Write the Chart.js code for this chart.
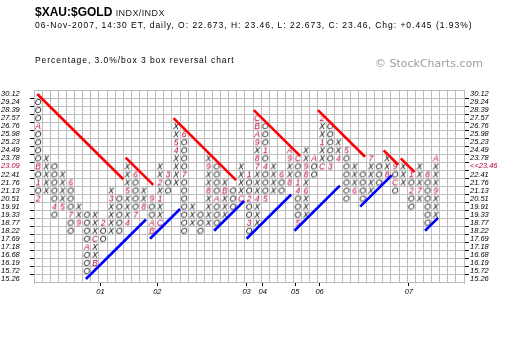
<!DOCTYPE html>
<html>
<head>
    <meta charset="utf-8">
    <script src="https://cdn.jsdelivr.net/npm/chart.js"></script>
    <title>$XAU:$GOLD P&amp;F</title>
    <style type="text/css">
        body { margin: 0; background: #fff; }
        #wrap { position: relative; width: 520px; height: 338px; }
        #pf { position: absolute; left: 0; top: 0; }
        .t { position: absolute; white-space: nowrap; font-family: "Liberation Sans", Arial, sans-serif; color: #000; }
    </style>
    <script type="text/javascript">
        // box values, bottom to top (3% boxes)
        var boxes = [15.26, 15.72, 16.19, 16.68, 17.18, 17.69, 18.22, 18.77, 19.33, 19.91, 20.51, 21.13,
                     21.76, 22.41, 23.09, 23.78, 24.49, 25.23, 25.98, 26.76, 27.57, 28.39, 29.24, 30.12];
        var lastLabel = '<<23.46';
        var lastBox = 14;

        // one entry per column: X or O, first box, last box (box index from the bottom)
        var colType = ['O','X','O','X','O','X','O','X','O','X','O','X','O','X','O','X','O','X','O','X',
                       'O','X','O','X','O','X','O','X','O','X','O','X','O','X','O','X','O','X','O','X',
                       'O','X','O','X','O','X','O','X','O','X'];
        var colFrom = [22,11,14, 9,12, 7, 8, 2, 7, 6,10, 7,13, 9,10, 7,13,12,18, 7,
                        8, 7,14, 8,11,10,13, 7,19,11,13,12,15, 8,15,14,19,15,16,11,
                       13,11,14,13,14,12,13,10,13, 8];
        var colTo   = [10,15, 8,13, 6, 9, 1, 8, 5,11, 6,14, 8,11, 6,14,11,19, 6, 9,
                        6,15, 7,12, 9,14, 6,20,10,14,11,16, 7,16,13,20,14,17,10,14,
                       10,15,12,15,11,14, 9,14, 7,15];

        // month markers: column, box, month
        var markCol = [0, 0, 0, 0, 2, 3, 4, 4, 5, 6, 7, 7, 8, 9,11,11,12,12,13,14,14,14,15,15,15,16,17,17,18,18,
                       21,21,22,23,25,26,26,26,27,27,27,27,27,27,27,28,28,28,30,31,31,31,32,32,32,32,
                       33,33,33,34,35,35,35,36,37,38,39,41,43,44,44,46,46,47,48,49,49];
        var markBox = [19,14,12,10, 9, 9,12, 8, 7, 4, 2, 5, 7,10, 7,11,13, 8, 9,10, 7, 6, 7,10,12,13,16,17,18,13,
                       11,14,10,11,10,13,10, 7,10,14,15,17,18,19,20,16,14,10,13,12,15,16,15,12,11, 7,
                       11,13,14,15,14,17,20,14,15,16,11,15,13,14,12,13,11,11,13,11,15];
        var markText = ['A','B','1','2','4','5','6','7','9','A','B','C','2','3','4','5','6','7','8','9','A','B','C','1','2','3','4','5','6','7',
                        '8','9','A','B','C','1','2','3','4','7','8','9','A','B','C','1','4','5','6','8','9','A','C','1','4','5',
                        '6','8','9','A','C','1','2','3','4','5','6','7','8','9','C','1','2','7','8','9','A'];

        // year labels on the bottom axis (column where the year starts)
        var yearCol = [8, 15, 26, 28, 32, 35, 46];
        var yearText = ['01', '02', '03', '04', '05', '06', '07'];

        // trend lines: [col1, box1, col2, box2]
        var redLines = [[-0.1, 23, 10.5, 12.4], [10.8, 15.1, 14.2, 11.7], [16.7, 20, 24.4, 12.3],
                        [26.6, 21, 32.3, 15.3], [34.5, 21, 40.3, 15.2], [42.6, 16, 44.4, 14.2], [44.7, 15, 46.4, 13.3]];
        var blueLines = [[5.9, 0, 13.3, 7.4], [13.8, 5, 17.5, 8.7], [21.7, 6, 25.4, 9.7], [25.7, 5, 31.2, 10.5],
                         [31.6, 6, 37.2, 11.6], [39.7, 9, 43.6, 12.9], [47.7, 6, 49.3, 7.6]];
    </script>
</head>
<body>
<div id="wrap">
    <canvas id="pf" width="520" height="338"></canvas>
    <div class="t" style="left:35px; top:6px; font-size:12px; line-height:12px; font-weight:bold;">$XAU:$GOLD <span style="font-weight:normal; font-size:9px; letter-spacing:0.4px; color:#222;">INDX/INDX</span></div>
    <div class="t" style="left:35px; top:21px; font-size:8.5px; line-height:8.5px; letter-spacing:0.98px;">06-Nov-2007, 14:30 ET, daily, O: 22.673, H: 23.46, L: 22.673, C: 23.46, Chg: +0.445 (1.93%)</div>
    <div class="t" style="left:35px; top:55.5px; font-size:8.5px; line-height:8.5px; letter-spacing:0.95px;">Percentage, 3.0%/box 3 box reversal chart</div>
    <div class="t" style="left:375px; top:57.5px; font-size:11px; line-height:11px; font-family:'DejaVu Sans', sans-serif; color:#9c9c9c;">&copy; StockCharts.com</div>
</div>

<script>
    var markColor = '#b4003c';
    var gridColor = '#bdbdbd';
    var tickFont = { family: 'Liberation Sans', size: 7.5, style: 'italic' };

    // small canvases used as point styles for X, O and the month markers
    var glyphs = {};
    function glyph(ch) {
        if (glyphs[ch]) return glyphs[ch];
        var c = document.createElement('canvas');
        c.width = 8;
        c.height = 8;
        var g = c.getContext('2d');
        g.font = 'italic 8.5px "Liberation Sans"';
        g.fillStyle = (ch === 'X' || ch === 'O') ? '#000' : markColor;
        g.textAlign = 'center';
        g.textBaseline = 'middle';
        g.fillText(ch, 4, 4.5);
        glyphs[ch] = c;
        return c;
    }

    function markAt(col, box) {
        for (var i = 0; i < markCol.length; i++) {
            if (markCol[i] === col && markBox[i] === box) return markText[i];
        }
        return null;
    }

    var points = [];
    for (var c = 0; c < colType.length; c++) {
        var step = colFrom[c] <= colTo[c] ? 1 : -1;
        for (var b = colFrom[c]; ; b += step) {
            points.push({ x: c, y: b, s: markAt(c, b) || colType[c] });
            if (b === colTo[c]) break;
        }
    }

    var datasets = [];
    function addLines(list, color) {
        list.forEach(function (l) {
            datasets.push({
                data: [{ x: l[0], y: l[1] }, { x: l[2], y: l[3] }],
                showLine: true, borderColor: color, borderWidth: 2.6, pointRadius: 0, borderCapStyle: 'butt'
            });
        });
    }
    addLines(redLines, '#ff0000');
    addLines(blueLines, '#0000ff');
    datasets.push({
        data: points,
        pointRadius: 4,
        pointStyle: function (ctx) { return ctx.raw ? glyph(ctx.raw.s) : 'circle'; }
    });

    function boxTicks(s) {
        s.ticks = boxes.map(function (v, i) { return { value: i }; });
    }
    function tickMarkColor(ctx) {
        return (ctx.type === 'tick' && ctx.index > 0) ? '#000' : 'rgba(0,0,0,0)';
    }

    var chart = new Chart(document.getElementById('pf'), {
        type: 'scatter',
        data: { datasets: datasets },
        options: {
            responsive: false,
            animation: false,
            events: [],
            layout: { padding: { left: 1, right: 0, top: 90, bottom: 0 } },
            plugins: { legend: { display: false }, tooltip: { enabled: false } },
            scales: {
                x: {
                    type: 'linear', position: 'top', min: -0.5, max: 52.5,
                    afterBuildTicks: function (s) {
                        s.ticks = [];
                        for (var i = 0; i <= 52; i++) s.ticks.push({ value: i });
                    },
                    ticks: { display: false },
                    grid: { offset: true, color: gridColor, drawTicks: false },
                    border: { display: false },
                    afterFit: function (s) { s.height = 0; }
                },
                years: {
                    type: 'linear', position: 'bottom', min: -0.5, max: 52.5,
                    afterBuildTicks: function (s) { s.ticks = yearCol.map(function (v) { return { value: v - 0.3 }; }); },
                    ticks: {
                        autoSkip: false, maxRotation: 0, padding: 1, color: '#000', font: tickFont,
                        callback: function (v, i) { return yearText[i]; }
                    },
                    grid: { drawOnChartArea: false, color: '#000', tickLength: 3 },
                    border: { display: false },
                    afterFit: function (s) { s.height = 55; }
                },
                y: {
                    type: 'linear', position: 'left', min: -0.5, max: 23.5,
                    afterBuildTicks: boxTicks,
                    ticks: {
                        autoSkip: false, crossAlign: 'far', padding: 2, font: tickFont,
                        color: function (ctx) { return ctx.index === lastBox ? markColor : '#000'; },
                        callback: function (v) { return boxes[v].toFixed(2); }
                    },
                    grid: { offset: true, color: gridColor, tickColor: tickMarkColor, tickLength: 4 },
                    border: { color: gridColor },
                    afterFit: function (s) { s.width = 33; }
                },
                y2: {
                    type: 'linear', position: 'right', min: -0.5, max: 23.5,
                    afterBuildTicks: boxTicks,
                    ticks: {
                        autoSkip: false, padding: 1, font: tickFont,
                        color: function (ctx) { return ctx.index === lastBox ? markColor : '#000'; },
                        callback: function (v) { return v === lastBox ? lastLabel : boxes[v].toFixed(2); }
                    },
                    grid: { offset: true, drawOnChartArea: false, tickColor: tickMarkColor, tickLength: 5 },
                    border: { color: gridColor },
                    afterFit: function (s) { s.width = 56; }
                }
            }
        }
    });
</script>
</body>
</html>
